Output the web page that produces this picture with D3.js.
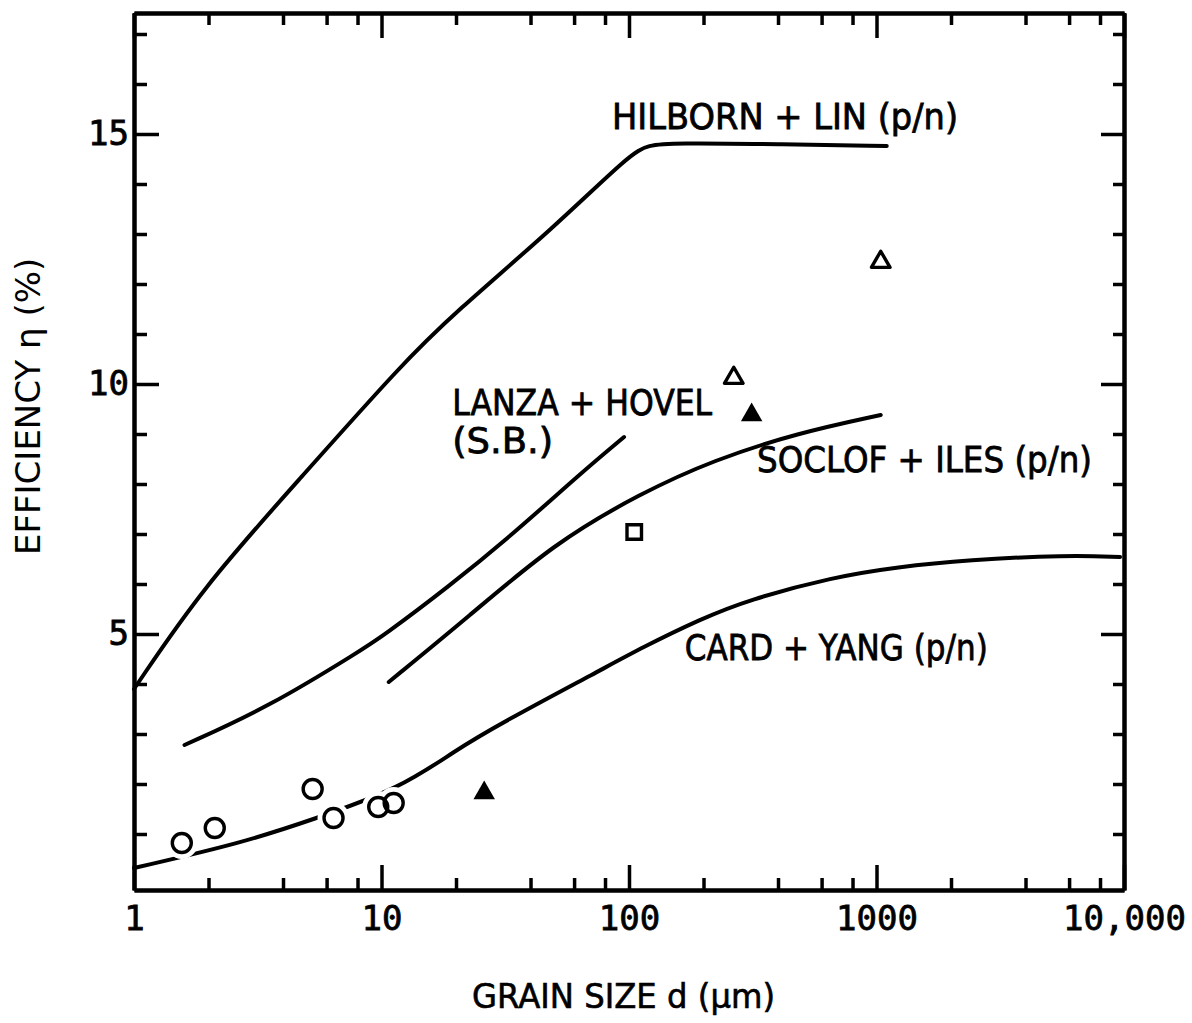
<!DOCTYPE html>
<html>
<head>
<meta charset="utf-8">
<script src="https://cdn.jsdelivr.net/npm/d3@7"></script>
<style>
  body { margin: 0; background: #fff; }
  svg text { fill: #000; }
</style>
</head>
<body>
<div id="chart"></div>
<script>
// grain size d (um) vs efficiency eta (%)
const hilbornLin = [[1, 3.9], [1.9, 5.94], [4.75, 8.14], [12, 10.38], [19.7, 11.42], [50, 13.14], [101, 14.6], [120, 14.78], [150, 14.82], [400, 14.8], [1100, 14.76]];
const lanzaHovel = [[1.6, 2.78], [3.5, 3.54], [8.3, 4.68], [10, 4.94], [18.6, 5.94], [34.4, 7.02], [64, 8.22], [95.5, 8.94]];
const soclofIles = [[10.7, 4.04], [22.4, 5.34], [49.9, 6.82], [112, 7.82], [220, 8.48], [480, 9.02], [1040, 9.38]];
const cardYang = [[1, 0.32], [2.72, 0.82], [5.22, 1.28], [12, 1.92], [19.7, 2.66], [30.5, 3.22], [77, 4.28], [112, 4.72], [195, 5.3], [302, 5.68], [671, 6.14], [1216, 6.34], [2328, 6.48], [5890, 6.58], [9640, 6.54]];

const openCircles = [[1.56, 0.82], [2.12, 1.12], [5.27, 1.9], [6.4, 1.32], [9.7, 1.54], [11.2, 1.62]];
const openTriangles = [[265, 10.12], [1040, 12.44]];
const filledTriangles = [[26, 1.82], [313, 9.38]];
const openSquares = [[105, 7.04]];

const xMajorTicks = [1, 10, 100, 1000, 10000];
const xTickLabels = ['1', '10', '100', '1000', '10,000'];
const xMinorTicks = [2, 4, 6, 8, 20, 40, 60, 80, 200, 400, 600, 800, 2000, 4000, 6000, 8000];
const yMajorTicks = [5, 10, 15];
const yMinorTicks = [1, 2, 3, 4, 6, 7, 8, 9, 11, 12, 13, 14, 16, 17];

const curveLabels = [
    {text: 'HILBORN + LIN (p/n)', d: 85.4, eta: 15.1},
    {text: 'LANZA + HOVEL', d: 19.3, eta: 9.38},
    {text: '(S.B.)', d: 19.3, eta: 8.62},
    {text: 'SOCLOF + ILES (p/n)', d: 329, eta: 8.24},
    {text: 'CARD + YANG (p/n)', d: 168, eta: 4.48}
];

class GrainChart {
    constructor(selector, width = 1192, height = 1023) {
        this.svg = d3.select(selector)
            .append('svg')
            .attr('width', width)
            .attr('height', height);

        this.x = d3.scaleLog().domain([1, 10000]).range([134, 1124]);
        this.y = d3.scaleLinear().domain([-0.12, 17.42]).range([890, 13]);
    }

    axes = () => {
        const {x, y, svg} = this;
        const fix = g => {
            g.select('.domain').attr('stroke-width', 4);
            g.selectAll('.tick line').attr('stroke-width', 3.5);
            g.selectAll('text')
                .attr('font-family', '"DejaVu Sans Mono", monospace')
                .attr('font-size', 34)
                .attr('stroke', '#000')
                .attr('stroke-width', 0.8);
        };

        // minor ticks first, labelled majors on top
        svg.append('g').attr('transform', `translate(0,${y.range()[0]})`)
            .call(d3.axisBottom(x).tickValues(xMinorTicks).tickSize(-12).tickSizeOuter(0).tickFormat(''))
            .call(fix);
        svg.append('g').attr('transform', `translate(0,${y.range()[0]})`)
            .call(d3.axisBottom(x).tickValues(xMajorTicks).tickSize(-25).tickSizeOuter(0).tickPadding(16)
                .tickFormat((d, i) => xTickLabels[i]))
            .call(fix);

        svg.append('g').attr('transform', `translate(0,${y.range()[1]})`)
            .call(d3.axisTop(x).tickValues(xMinorTicks).tickSize(-12).tickSizeOuter(0).tickFormat(''))
            .call(fix);
        svg.append('g').attr('transform', `translate(0,${y.range()[1]})`)
            .call(d3.axisTop(x).tickValues(xMajorTicks).tickSize(-25).tickSizeOuter(0).tickFormat(''))
            .call(fix);

        svg.append('g').attr('transform', `translate(${x.range()[0]},0)`)
            .call(d3.axisLeft(y).tickValues(yMinorTicks).tickSize(-13).tickSizeOuter(0).tickFormat(''))
            .call(fix);
        svg.append('g').attr('transform', `translate(${x.range()[0]},0)`)
            .call(d3.axisLeft(y).tickValues(yMajorTicks).tickSize(-25).tickSizeOuter(0).tickPadding(5))
            .call(fix);

        svg.append('g').attr('transform', `translate(${x.range()[1]},0)`)
            .call(d3.axisRight(y).tickValues(yMinorTicks).tickSize(-11).tickSizeOuter(0).tickFormat(''))
            .call(fix);
        svg.append('g').attr('transform', `translate(${x.range()[1]},0)`)
            .call(d3.axisRight(y).tickValues(yMajorTicks).tickSize(-23).tickSizeOuter(0).tickFormat(''))
            .call(fix);

        svg.append('text')
            .attr('x', 472)
            .attr('y', 1008)
            .attr('font-family', '"DejaVu Sans", sans-serif')
            .attr('font-size', 33)
            .attr('textLength', 303)
            .attr('lengthAdjust', 'spacingAndGlyphs')
            .attr('stroke', '#000')
            .attr('stroke-width', 0.6)
            .text('GRAIN SIZE d (μm)');

        svg.append('text')
            .attr('transform', 'translate(40,555) rotate(-90)')
            .attr('font-family', '"DejaVu Sans", sans-serif')
            .attr('font-size', 34)
            .text('EFFICIENCY η (%)');
    }

    curves = () => {
        const {x, y, svg} = this;
        const line = d3.line()
            .x(d => x(d[0]))
            .y(d => y(d[1]))
            .curve(d3.curveBasis);

        svg.append('g')
            .selectAll('path')
            .data([hilbornLin, lanzaHovel, soclofIles, cardYang])
            .join('path')
            .attr('d', line)
            .attr('fill', 'none')
            .attr('stroke', '#000')
            .attr('stroke-width', 4)
            .attr('stroke-linecap', 'round');

        // label widths follow the original lettering
        const widths = [346, 260, 101, 335, 303];
        svg.append('g')
            .selectAll('text')
            .data(curveLabels)
            .join('text')
            .attr('x', d => x(d.d))
            .attr('y', d => y(d.eta))
            .attr('font-family', '"DejaVu Sans", sans-serif')
            .attr('font-size', 35)
            .attr('textLength', (d, i) => widths[i])
            .attr('lengthAdjust', 'spacingAndGlyphs')
            .attr('stroke', '#000')
            .attr('stroke-width', 0.8)
            .text(d => d.text);
    }

    markers = () => {
        const {x, y, svg} = this;
        const at = d => `translate(${x(d[0])},${y(d[1])})`;
        const tri = d3.symbol().type(d3.symbolTriangle).size(150);
        const sq = d3.symbol().type(d3.symbolSquare).size(210);

        // white halo breaks the card + yang line around the circles
        svg.append('g')
            .selectAll('circle')
            .data(openCircles)
            .join('circle')
            .attr('transform', at)
            .attr('r', 11)
            .attr('fill', '#fff')
            .attr('stroke', '#fff')
            .attr('stroke-width', 10);

        svg.append('g')
            .selectAll('circle')
            .data(openCircles)
            .join('circle')
            .attr('transform', at)
            .attr('r', 9.5)
            .attr('fill', 'none')
            .attr('stroke', '#000')
            .attr('stroke-width', 3.4);

        svg.append('g')
            .selectAll('path')
            .data(openTriangles)
            .join('path')
            .attr('transform', at)
            .attr('d', tri)
            .attr('fill', '#fff')
            .attr('stroke', '#000')
            .attr('stroke-width', 3.4)
            .attr('stroke-linejoin', 'round');

        svg.append('g')
            .selectAll('path')
            .data(filledTriangles)
            .join('path')
            .attr('transform', at)
            .attr('d', tri.size(200))
            .attr('fill', '#000');

        svg.append('g')
            .selectAll('path')
            .data(openSquares)
            .join('path')
            .attr('transform', at)
            .attr('d', sq)
            .attr('fill', '#fff')
            .attr('stroke', '#000')
            .attr('stroke-width', 3.4);
    }

    draw = () => {
        this.axes();
        this.curves();
        this.markers();
    }
}

new GrainChart('#chart').draw();
</script>
</body>
</html>
